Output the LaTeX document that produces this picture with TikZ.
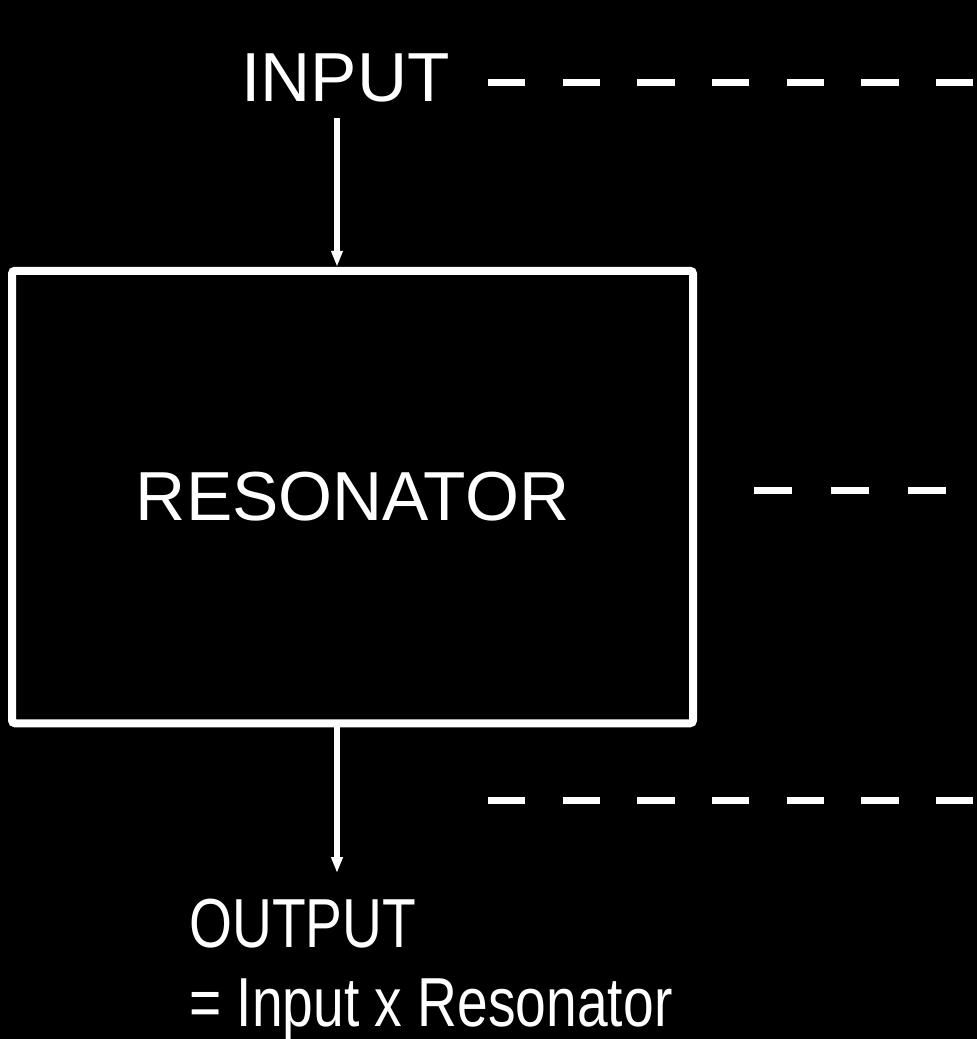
\documentclass[tikz,border=0pt]{standalone}
\usepackage{fontspec}
\setmainfont{Liberation Sans}
\newfontfamily\narrowsans[FakeStretch=0.795]{Liberation Sans}
\usetikzlibrary{arrows.meta}

\begin{document}
\begin{tikzpicture}[x=0.5pt,y=-0.5pt,>={Triangle[width=5.5pt,length=8pt]},
  font=\fontsize{34.7}{40}\selectfont,
  lbl/.style={text=white,inner sep=0pt,anchor=base west},
  signal/.style={draw=white,line width=3pt},
  feed/.style={draw=white,line width=3.5pt,dash pattern=on 18.67pt off 18.67pt}]
\useasboundingbox (0,0) rectangle (977,1039);
\fill[black] (0,0) rectangle (977,1039);
\clip (0,0) rectangle (977,1039);
\node[draw=white,line width=4pt,rounded corners=1.5pt,minimum width=340.5pt,minimum height=226.25pt,text=white] (res) at (352.5,497) {RESONATOR};
\node[lbl] (input) at (241,101) {INPUT};
\node[lbl,font=\fontsize{34.7}{40}\narrowsans] (output) at (189,947) {OUTPUT};
\node[lbl,font=\fontsize{34.7}{40}\narrowsans] (formula) at (189,1026) {= Input x Resonator};
\coordinate (intail) at (337,118);
\coordinate (outtip) at (337,873);
\draw[signal,->] (intail) -- (intail |- res.north);
\draw[signal,->] (outtip |- res.south) -- (outtip);
\coordinate (topA) at (488,82);
\coordinate (topB) at (1000,82);
\coordinate (midA) at (754,490);
\coordinate (midB) at (946,490);
\coordinate (lowA) at (488,800);
\coordinate (lowB) at (1000,800);
\draw[feed] (topA) -- (topB);
\draw[feed,dash pattern=on 19pt off 19.5pt] (midA) -- (midB);
\draw[feed] (lowA) -- (lowB);
\end{tikzpicture}
\end{document}
